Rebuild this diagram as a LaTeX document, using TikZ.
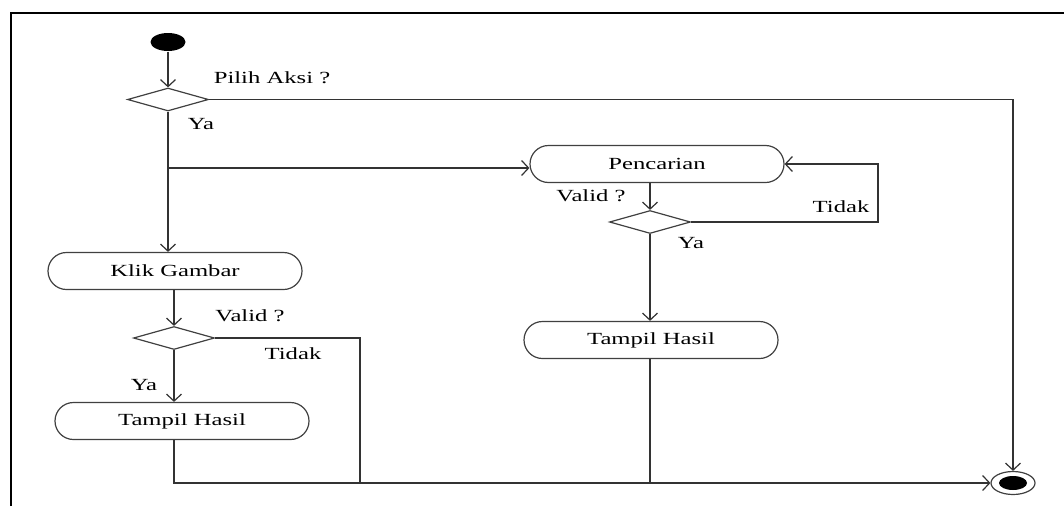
\documentclass[tikz,border=0pt]{standalone}
\usepackage{fontspec}
\setmainfont{Liberation Serif}[FakeStretch=1.45]
\usepackage{tikz}
\usetikzlibrary{arrows.meta,shapes.geometric,shapes.misc}

\begin{document}
\begin{tikzpicture}[x=1pt,y=-1pt,
  line width=1.2pt,
  >={Straight Barb[length=7pt,width=15pt]},
  every node/.style={font=\fontsize{17}{20}\selectfont},
  aksi/.style={draw=black!75,rounded rectangle,minimum width=254pt,minimum height=37pt,inner sep=0pt},
  cabang/.style={draw=black!75,diamond,minimum width=81pt,minimum height=23pt,inner sep=0pt},
  garis/.style={black!80}]
\useasboundingbox (0,0) rectangle (1064,506);
% bingkai
\draw[line width=2.2pt] (11,506) -- (11,13) -- (1064,13);
% simpul
\node[ellipse,fill=black,minimum width=35pt,minimum height=18pt,inner sep=0pt] (mulai) at (168,42) {};
\node[cabang] (pilih) at (168,99.5) {};
\node[aksi] (klik) at (175,271) {Klik Gambar};
\node[cabang] (validkiri) at (174,338) {};
\node[aksi] (hasilkiri) at (182,421) {Tampil Hasil};
\node[aksi] (cari) at (657,164) {Pencarian};
\node[cabang] (validkanan) at (650,222) {};
\node[aksi] (hasilkanan) at (651,340) {Tampil Hasil};
\node[ellipse,draw=black!75,minimum width=44pt,minimum height=23pt,inner sep=0pt] (selesai) at (1013,483) {};
\node[ellipse,fill=black,minimum width=28pt,minimum height=14pt,inner sep=0pt] (selesaiin) at (selesai) {};
\coordinate (bagi) at (168,168);
\coordinate (putar) at (878,164);
\coordinate (tidakkiri) at (360,483);
% label
\node (lpilih) at (272,78) {Pilih Aksi ?};
\node (lya1) at (201,124) {Ya};
\node (lvalid1) at (250,316) {Valid ?};
\node (ltidak1) at (293,354) {Tidak};
\node (lya2) at (144,385) {Ya};
\node (lvalid2) at (591,196) {Valid ?};
\node (ltidak2) at (841,207) {Tidak};
\node (lya3) at (691,243) {Ya};
% alur
\draw[garis,->] (mulai) -- (pilih.north);
\draw[garis,->] (pilih.east) -| (selesai.north);
\draw[garis,->] (pilih.south) -- (pilih.south |- klik.north);
\draw[garis,->] (bagi) -- (bagi -| cari.west);
\draw[garis,->] (klik.south -| validkiri.north) -- (validkiri.north);
\draw[garis,->] (validkiri.south) -- (validkiri.south |- hasilkiri.north);
\draw[garis] (validkiri.east) -| (tidakkiri);
\draw[garis,->] (validkiri.south |- hasilkiri.south) |- (selesai.west);
\draw[garis,->] (cari.south -| validkanan.north) -- (validkanan.north);
\draw[garis,->] (validkanan.east) -| (putar) -- (cari.east);
\draw[garis,->] (validkanan.south) -- (validkanan.south |- hasilkanan.north);
\draw[garis] (hasilkanan.south -| validkanan.south) -- (validkanan.south |- selesai.west);
\end{tikzpicture}
\end{document}
